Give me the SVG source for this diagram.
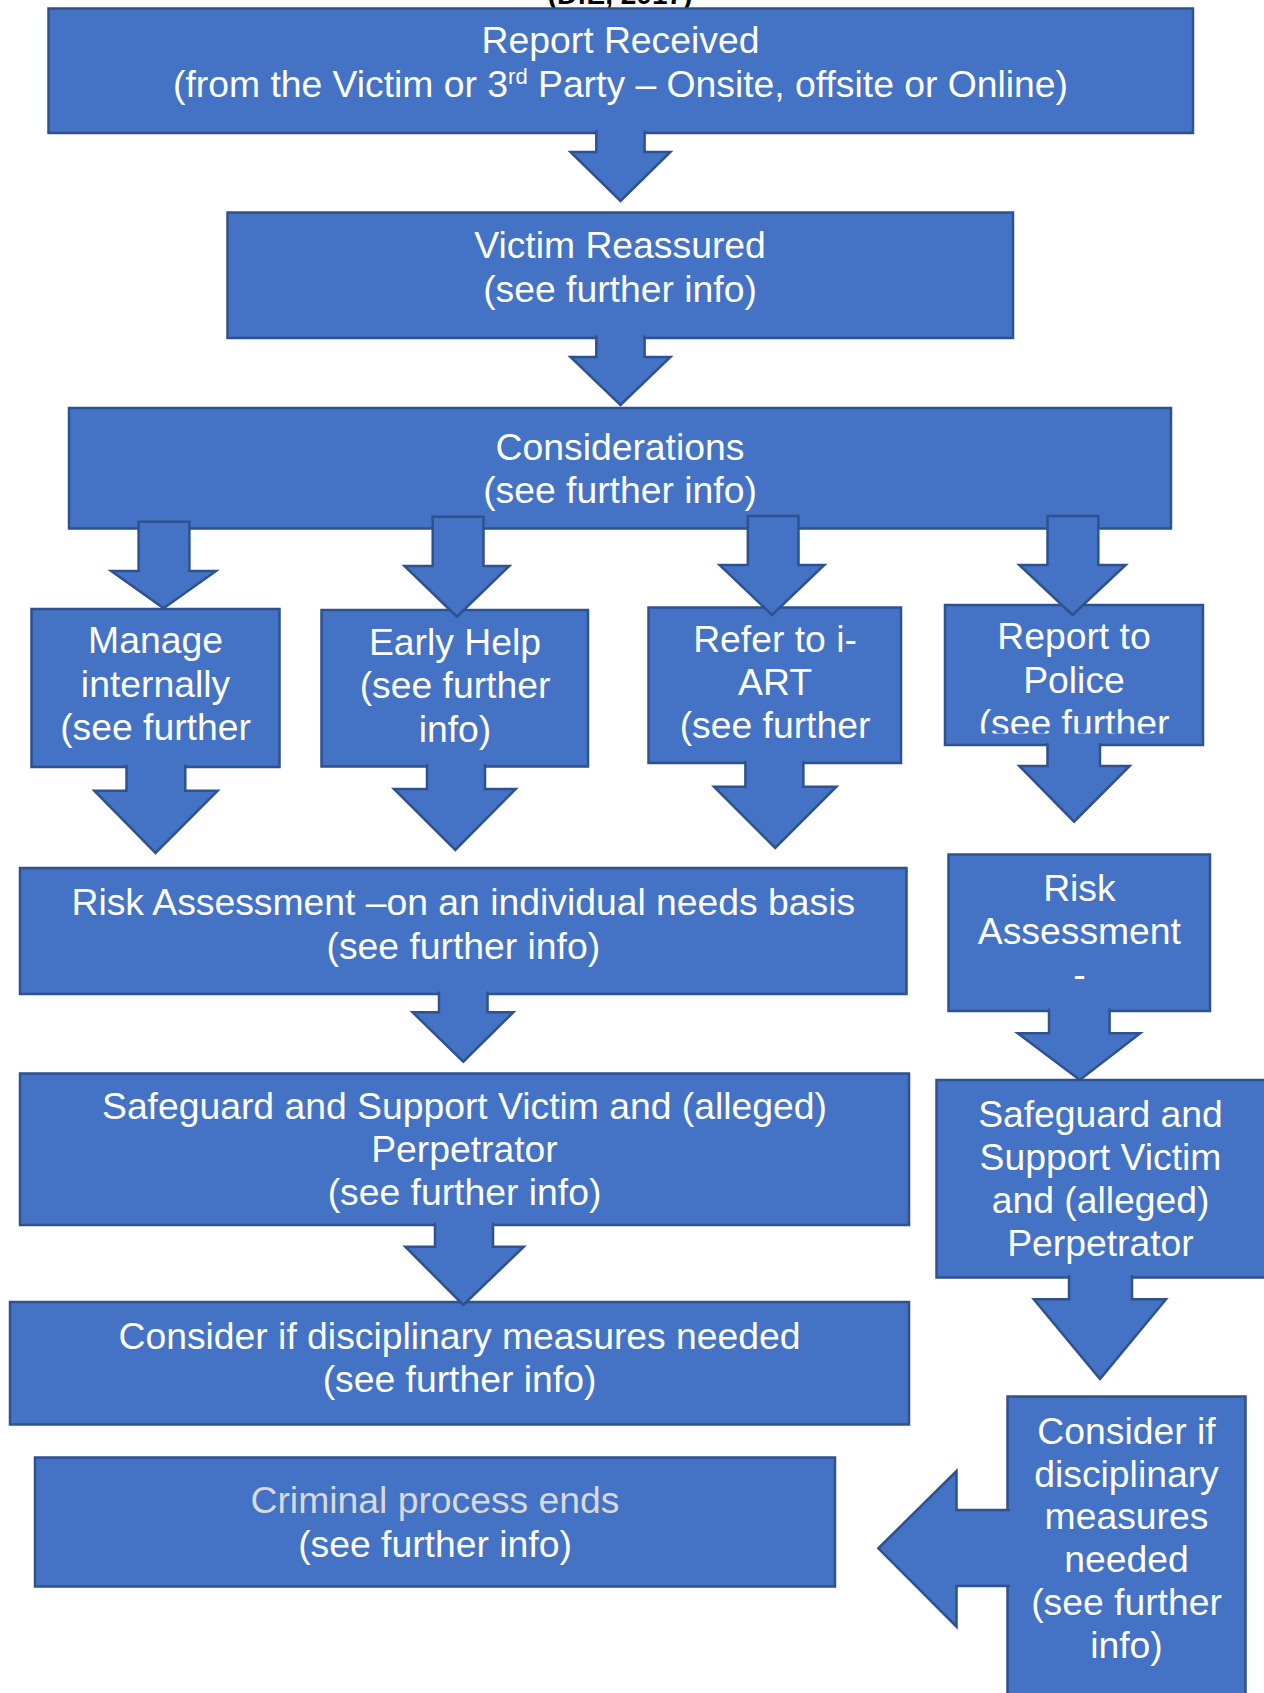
<svg xmlns="http://www.w3.org/2000/svg" width="1264" height="1693" viewBox="0 0 1264 1693">
<style>
.box{fill:#4472C4;stroke:#2F528F;stroke-width:2.5}
.arr{fill:#4472C4;stroke:#2F528F;stroke-width:2.5;stroke-linejoin:miter}
.t{font-family:"Liberation Sans",Arial,sans-serif;font-size:37.3px;fill:#FFFFFF;text-anchor:middle}
.g{fill:#D9D9D9}
.hdr{font-family:"Liberation Sans",Arial,sans-serif;font-size:28px;font-weight:bold;fill:#000000;text-anchor:middle}
</style>
<defs>
<clipPath id="clipManage"><rect x="31" y="609" width="250" height="148"/></clipPath>
<clipPath id="clipPolice"><rect x="945" y="605" width="260" height="128.5"/></clipPath>
<clipPath id="clipRA"><rect x="948" y="854" width="262" height="146"/></clipPath>
</defs>
<rect width="1264" height="1693" fill="#FFFFFF"/>
<text class="hdr" x="620" y="4">(DfE, 2017)</text>

<g id="n-report">
<rect class="box" x="48.5" y="8.5" width="1144.5" height="124.5"/>
<text class="t" x="620.5" y="53">Report Received</text>
<text class="t" x="620.5" y="97">(from the Victim or 3<tspan font-size="22px" dy="-13">rd</tspan><tspan dy="13"> Party – Onsite, offsite or Online)</tspan></text>
</g>

<g id="n-reassured">
<rect class="box" x="227.5" y="212.5" width="785.5" height="125.5"/>
<text class="t" x="620" y="258">Victim Reassured</text>
<text class="t" x="620" y="302">(see further info)</text>
</g>

<g id="n-considerations">
<rect class="box" x="69" y="408" width="1102" height="120.5"/>
<text class="t" x="620" y="460">Considerations</text>
<text class="t" x="620" y="503">(see further info)</text>
</g>

<g id="n-manage">
<rect class="box" x="31.5" y="609" width="248" height="158"/>
<g clip-path="url(#clipManage)">
<text class="t" x="155.5" y="653">Manage</text>
<text class="t" x="155.5" y="697">internally</text>
<text class="t" x="155.5" y="740">(see further</text>
<text class="t" x="155.5" y="784">info)</text>
</g>
</g>

<g id="n-earlyhelp">
<rect class="box" x="321.5" y="610" width="266.5" height="156.5"/>
<text class="t" x="455" y="655">Early Help</text>
<text class="t" x="455" y="698">(see further</text>
<text class="t" x="455" y="742">info)</text>
</g>

<g id="n-iart">
<rect class="box" x="648.5" y="607.5" width="252.5" height="155.5"/>
<text class="t" x="775" y="652">Refer to i-</text>
<text class="t" x="775" y="695">ART</text>
<text class="t" x="775" y="738">(see further</text>
</g>

<g id="n-police">
<rect class="box" x="945" y="605" width="258" height="140"/>
<g clip-path="url(#clipPolice)">
<text class="t" x="1074" y="649">Report to</text>
<text class="t" x="1074" y="692.5">Police</text>
<text class="t" x="1074" y="736">(see further</text>
</g>
</g>

<g id="n-risk-left">
<rect class="box" x="20" y="868" width="886.5" height="126"/>
<text class="t" x="463.3" y="915">Risk Assessment –on an individual needs basis</text>
<text class="t" x="463.3" y="958.5">(see further info)</text>
</g>

<g id="n-risk-right">
<rect class="box" x="948.5" y="854.5" width="261.5" height="156.5"/>
<g clip-path="url(#clipRA)">
<text class="t" x="1079.4" y="901">Risk</text>
<text class="t" x="1079.4" y="944">Assessment</text>
<text class="t" x="1079.4" y="987">-</text>
</g>
</g>

<g id="n-safeguard-left">
<rect class="box" x="20" y="1073.5" width="889" height="151.5"/>
<text class="t" x="464.5" y="1118.5">Safeguard and Support Victim and (alleged)</text>
<text class="t" x="464.5" y="1161.7">Perpetrator</text>
<text class="t" x="464.5" y="1205">(see further info)</text>
</g>

<g id="n-safeguard-right">
<rect class="box" x="936.5" y="1080" width="330" height="197.5"/>
<text class="t" x="1100.5" y="1127">Safeguard and</text>
<text class="t" x="1100.5" y="1170">Support Victim</text>
<text class="t" x="1100.5" y="1212.5">and (alleged)</text>
<text class="t" x="1100.5" y="1255.5">Perpetrator</text>
</g>

<g id="n-discipline-left">
<rect class="box" x="10" y="1302" width="899" height="122.5"/>
<text class="t" x="459.5" y="1348.5">Consider if disciplinary measures needed</text>
<text class="t" x="459.5" y="1392">(see further info)</text>
</g>

<g id="n-criminal">
<rect class="box" x="35" y="1457.5" width="800" height="129"/>
<text class="t g" x="435" y="1513">Criminal process ends</text>
<text class="t" x="435" y="1556.7">(see further info)</text>
</g>

<g id="n-discipline-right">
<rect class="box" x="1007.5" y="1396.5" width="238" height="310"/>
<text class="t" x="1126.5" y="1443.5">Consider if</text>
<text class="t" x="1126.5" y="1486.5">disciplinary</text>
<text class="t" x="1126.5" y="1529">measures</text>
<text class="t" x="1126.5" y="1572">needed</text>
<text class="t" x="1126.5" y="1615">(see further</text>
<text class="t" x="1126.5" y="1657.5">info)</text>
</g>

<g id="connectors">
<path class="arr" d="M644.6,130.5 V152 H670.4 L620.5,201 L570.5,152 H596.3 V130.5"/>
<path class="arr" d="M644.6,335.5 V357 H670.4 L620.5,405 L570.5,357 H596.3 V335.5"/>
<path class="arr" d="M189.4,521.7 V571 H216 L163.6,608.3 L111.2,571 H138.6 V521.7 Z"/>
<path class="arr" d="M483.5,516.7 V566 H509.3 L456.9,616.7 L404.5,566 H432.7 V516.7 Z"/>
<path class="arr" d="M798.5,516 V565 H824.3 L772,615 L719.6,565 H747.8 V516 Z"/>
<path class="arr" d="M1098.3,516 V565 H1125.7 L1072.5,615 L1019.3,565 H1047.5 V516 Z"/>
<path class="arr" d="M185.3,764.5 V790.7 H217.6 L155.5,853 L94.3,790.7 H126.5 V764.5"/>
<path class="arr" d="M485,764 V789 H515.7 L455.3,850 L394,789 H427 V764"/>
<path class="arr" d="M803.4,761 V786.7 H836.4 L775.2,848 L714,786.7 H745.4 V761"/>
<path class="arr" d="M1100,743 V766 H1129.7 L1074.1,821.7 L1019.3,766 H1047.5 V743"/>
<path class="arr" d="M487.5,991.5 V1012.3 H513.3 L463.3,1061.7 L412.6,1012.3 H439 V991.5"/>
<path class="arr" d="M1109.6,1008.5 V1033.3 H1140.2 L1079.8,1080 L1017.7,1033.3 H1049 V1008.5"/>
<path class="arr" d="M493,1222.5 V1246.7 H523.8 L463.3,1305 L405.3,1246.7 H435 V1222.5"/>
<path class="arr" d="M1132,1275 V1299.3 H1166 L1100,1379 L1033.8,1299.3 H1069 V1275"/>
<path class="arr" d="M1010,1510 H956.5 V1471 L878.3,1548.3 L956.5,1626.7 V1586 H1010"/>
</g>
</svg>
